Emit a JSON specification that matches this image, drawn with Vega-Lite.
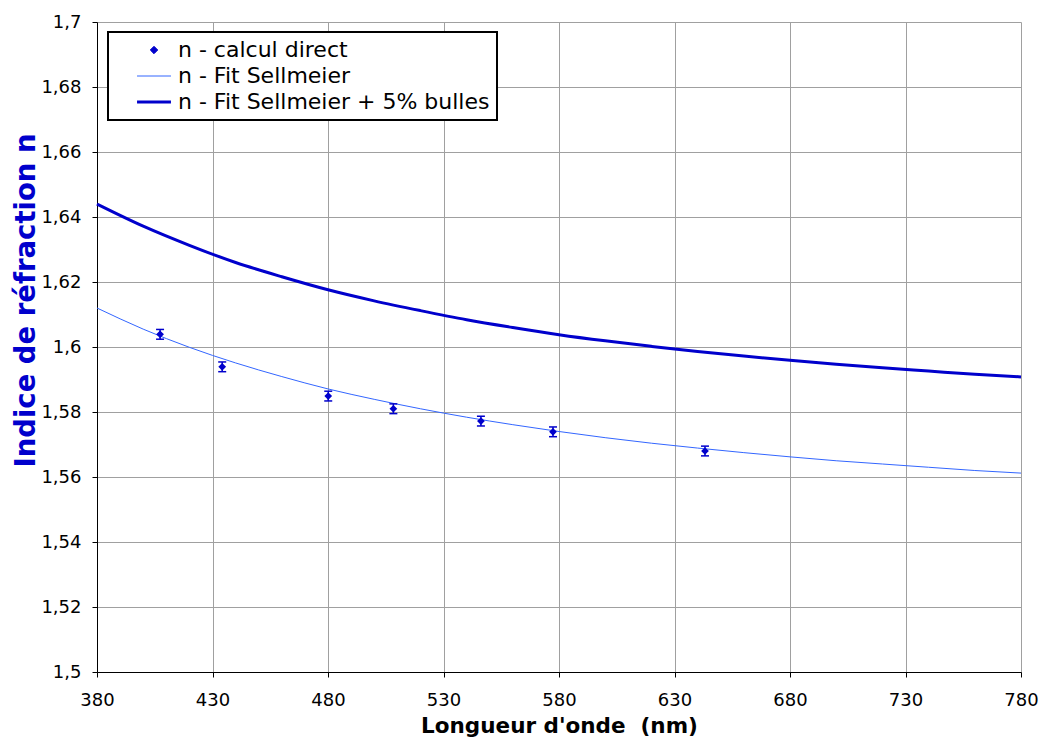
{
  "$schema": "https://vega.github.io/schema/vega-lite/v6.json",
  "width": 924,
  "height": 650,
  "autosize": {"type": "none"},
  "padding": {"left": 97, "top": 22, "right": 19, "bottom": 68},
  "background": "white",
  "config": {
    "view": {"stroke": null},
    "font": "DejaVu Sans",
    "axis": {
      "gridColor": "#a0a0a0",
      "gridWidth": 1,
      "gridOpacity": 1,
      "domainColor": "black",
      "domainWidth": 1,
      "tickColor": "black",
      "tickSize": 5,
      "labelFont": "DejaVu Sans",
      "labelFontSize": 18,
      "labelColor": "black",
      "labelFlush": false,
      "labelOverlap": false,
      "titleFont": "DejaVu Sans",
      "titleFontWeight": "bold"
    }
  },
  "datasets": {
    "fit": [
      {"wl": 380, "n": 1.6120, "series": "n - Fit Sellmeier"},
      {"wl": 400, "n": 1.6055, "series": "n - Fit Sellmeier"},
      {"wl": 420, "n": 1.5999, "series": "n - Fit Sellmeier"},
      {"wl": 440, "n": 1.5951, "series": "n - Fit Sellmeier"},
      {"wl": 460, "n": 1.5909, "series": "n - Fit Sellmeier"},
      {"wl": 480, "n": 1.5871, "series": "n - Fit Sellmeier"},
      {"wl": 500, "n": 1.5839, "series": "n - Fit Sellmeier"},
      {"wl": 520, "n": 1.5810, "series": "n - Fit Sellmeier"},
      {"wl": 540, "n": 1.5784, "series": "n - Fit Sellmeier"},
      {"wl": 560, "n": 1.5761, "series": "n - Fit Sellmeier"},
      {"wl": 580, "n": 1.5740, "series": "n - Fit Sellmeier"},
      {"wl": 600, "n": 1.5721, "series": "n - Fit Sellmeier"},
      {"wl": 620, "n": 1.5704, "series": "n - Fit Sellmeier"},
      {"wl": 640, "n": 1.5689, "series": "n - Fit Sellmeier"},
      {"wl": 660, "n": 1.5675, "series": "n - Fit Sellmeier"},
      {"wl": 680, "n": 1.5662, "series": "n - Fit Sellmeier"},
      {"wl": 700, "n": 1.5650, "series": "n - Fit Sellmeier"},
      {"wl": 720, "n": 1.5640, "series": "n - Fit Sellmeier"},
      {"wl": 740, "n": 1.5630, "series": "n - Fit Sellmeier"},
      {"wl": 760, "n": 1.5620, "series": "n - Fit Sellmeier"},
      {"wl": 780, "n": 1.5612, "series": "n - Fit Sellmeier"},
      {"wl": 380, "n": 1.6440, "series": "n - Fit Sellmeier + 5% bulles"},
      {"wl": 400, "n": 1.6372, "series": "n - Fit Sellmeier + 5% bulles"},
      {"wl": 420, "n": 1.6313, "series": "n - Fit Sellmeier + 5% bulles"},
      {"wl": 440, "n": 1.6260, "series": "n - Fit Sellmeier + 5% bulles"},
      {"wl": 460, "n": 1.6216, "series": "n - Fit Sellmeier + 5% bulles"},
      {"wl": 480, "n": 1.6176, "series": "n - Fit Sellmeier + 5% bulles"},
      {"wl": 500, "n": 1.6142, "series": "n - Fit Sellmeier + 5% bulles"},
      {"wl": 520, "n": 1.6112, "series": "n - Fit Sellmeier + 5% bulles"},
      {"wl": 540, "n": 1.6084, "series": "n - Fit Sellmeier + 5% bulles"},
      {"wl": 560, "n": 1.6060, "series": "n - Fit Sellmeier + 5% bulles"},
      {"wl": 580, "n": 1.6038, "series": "n - Fit Sellmeier + 5% bulles"},
      {"wl": 600, "n": 1.6019, "series": "n - Fit Sellmeier + 5% bulles"},
      {"wl": 620, "n": 1.6002, "series": "n - Fit Sellmeier + 5% bulles"},
      {"wl": 640, "n": 1.5986, "series": "n - Fit Sellmeier + 5% bulles"},
      {"wl": 660, "n": 1.5972, "series": "n - Fit Sellmeier + 5% bulles"},
      {"wl": 680, "n": 1.5959, "series": "n - Fit Sellmeier + 5% bulles"},
      {"wl": 700, "n": 1.5947, "series": "n - Fit Sellmeier + 5% bulles"},
      {"wl": 720, "n": 1.5936, "series": "n - Fit Sellmeier + 5% bulles"},
      {"wl": 740, "n": 1.5926, "series": "n - Fit Sellmeier + 5% bulles"},
      {"wl": 760, "n": 1.5916, "series": "n - Fit Sellmeier + 5% bulles"},
      {"wl": 780, "n": 1.5908, "series": "n - Fit Sellmeier + 5% bulles"}
    ],
    "pts": [
      {"wl": 407.3, "n": 1.6039, "lo": 1.6024, "hi": 1.6054, "series": "n - calcul direct"},
      {"wl": 434.2, "n": 1.5939, "lo": 1.5924, "hi": 1.5954, "series": "n - calcul direct"},
      {"wl": 480.1, "n": 1.5849, "lo": 1.5834, "hi": 1.5864, "series": "n - calcul direct"},
      {"wl": 508.3, "n": 1.5810, "lo": 1.5795, "hi": 1.5825, "series": "n - calcul direct"},
      {"wl": 546.2, "n": 1.5772, "lo": 1.5757, "hi": 1.5787, "series": "n - calcul direct"},
      {"wl": 577.4, "n": 1.5739, "lo": 1.5724, "hi": 1.5754, "series": "n - calcul direct"},
      {"wl": 643.2, "n": 1.5680, "lo": 1.5665, "hi": 1.5695, "series": "n - calcul direct"}
    ]
  },
  "layer": [
    {
      "data": {"name": "fit"},
      "mark": {"type": "line", "interpolate": "monotone"},
      "encoding": {
        "x": {
          "field": "wl",
          "type": "quantitative",
          "scale": {"domain": [380, 780], "nice": false, "zero": false},
          "axis": {
            "title": "Longueur d'onde \u00a0(nm)",
            "titleFontSize": 21.5,
            "values": [380, 430, 480, 530, 580, 630, 680, 730, 780],
            "labelPadding": 14,
            "titlePadding": 6
          }
        },
        "y": {
          "field": "n",
          "type": "quantitative",
          "scale": {"domain": [1.5, 1.7], "nice": false, "zero": false},
          "axis": {
            "title": "Indice de réfraction n",
            "titleColor": "#0000CC",
            "titleFontSize": 27.5,
            "titleX": -63,
            "titleY": 278,
            "titleAngle": -90,
            "titleAlign": "center",
            "titleBaseline": "alphabetic",
            "values": [1.5, 1.52, 1.54, 1.56, 1.58, 1.6, 1.62, 1.64, 1.66, 1.68, 1.7],
            "labelExpr": "replace(toString(datum.value), '.', ',')",
            "labelPadding": 11
          }
        },
        "color": {
          "field": "series",
          "type": "nominal",
          "scale": {
            "domain": ["n - calcul direct", "n - Fit Sellmeier", "n - Fit Sellmeier + 5% bulles"],
            "range": ["#0000CC", "#3366FF", "#0000CC"]
          },
          "legend": {
            "title": null,
            "orient": "none",
            "legendX": 11,
            "legendY": 10,
            "strokeColor": "black",
            "fillColor": "white",
            "padding": 7,
            "labelFont": "DejaVu Sans",
            "labelFontSize": 22,
            "labelColor": "black",
            "labelLimit": 0,
            "labelOffset": 13,
            "symbolOffset": 28,
            "rowPadding": 4,
            "symbolSize": 1150,
            "symbolType": "stroke",
            "symbolStrokeWidth": 1,
            "encode": {
              "legend": {
                "update": {
                  "strokeWidth": {"value": 2}
                }
              },
              "symbols": {
                "update": {
                  "shape": {"signal": "datum.value === 'n - calcul direct' ? 'diamond' : 'stroke'"},
                  "size": {"signal": "datum.value === 'n - calcul direct' ? 55 : 1150"},
                  "strokeWidth": {"signal": "datum.value === 'n - Fit Sellmeier + 5% bulles' ? 3 : 1"},
                  "fill": {"signal": "datum.value === 'n - calcul direct' ? '#0000CC' : 'transparent'"},
                  "stroke": {"signal": "datum.value === 'n - Fit Sellmeier' ? '#3366FF' : '#0000CC'"},
                  "opacity": {"value": 1},
                  "fillOpacity": {"value": 1},
                  "strokeOpacity": {"value": 1}
                }
              }
            }
          }
        },
        "strokeWidth": {
          "field": "series",
          "type": "nominal",
          "scale": {
            "domain": ["n - Fit Sellmeier", "n - Fit Sellmeier + 5% bulles"],
            "range": [1, 3]
          },
          "legend": null
        }
      }
    },
    {
      "data": {"name": "pts"},
      "mark": {"type": "rule", "color": "#0000CC", "strokeWidth": 1.5},
      "encoding": {
        "x": {"field": "wl", "type": "quantitative"},
        "y": {"field": "lo", "type": "quantitative"},
        "y2": {"field": "hi"}
      }
    },
    {
      "data": {"name": "pts"},
      "mark": {"type": "tick", "orient": "horizontal", "color": "#0000CC", "size": 8, "thickness": 1.5, "opacity": 1},
      "encoding": {
        "x": {"field": "wl", "type": "quantitative"},
        "y": {"field": "lo", "type": "quantitative"}
      }
    },
    {
      "data": {"name": "pts"},
      "mark": {"type": "tick", "orient": "horizontal", "color": "#0000CC", "size": 8, "thickness": 1.5, "opacity": 1},
      "encoding": {
        "x": {"field": "wl", "type": "quantitative"},
        "y": {"field": "hi", "type": "quantitative"}
      }
    },
    {
      "data": {"name": "pts"},
      "mark": {"type": "point", "shape": "diamond", "filled": true, "size": 60, "opacity": 1},
      "encoding": {
        "x": {"field": "wl", "type": "quantitative"},
        "y": {"field": "n", "type": "quantitative"},
        "color": {"field": "series", "type": "nominal"}
      }
    }
  ]
}
